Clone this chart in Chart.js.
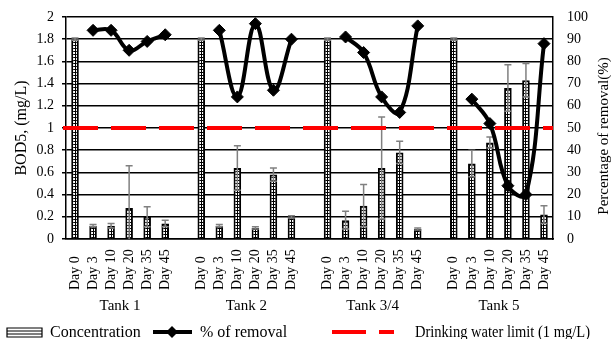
<!DOCTYPE html>
<html>
<head>
<meta charset="utf-8">
<script src="https://cdn.jsdelivr.net/npm/chart.js@4"></script>
<style>
  body { margin: 0; background: #fff; }
  canvas { display: block; }
</style>
</head>
<body>
<canvas id="bodChart" width="611" height="339"></canvas>
<script>
// tanks and sampling days
const tanks = ['Tank 1', 'Tank 2', 'Tank 3/4', 'Tank 5'];
const days = ['Day 0', 'Day 3', 'Day 10', 'Day 20', 'Day 35', 'Day 45'];

// BOD5 concentration (mg/L)
const concTank1 = [1.8, 0.12, 0.12, 0.28, 0.20, 0.14];
const concTank2 = [1.8, 0.12, 0.64, 0.10, 0.58, 0.20];
const concTank34 = [1.8, 0.17, 0.30, 0.64, 0.78, 0.09];
const concTank5 = [1.8, 0.68, 0.87, 1.36, 1.43, 0.22];

// standard deviation (mg/L)
const errTank1 = [0.01, 0.01, 0.02, 0.38, 0.09, 0.03];
const errTank2 = [0.01, 0.01, 0.20, 0.01, 0.06, 0.01];
const errTank34 = [0.01, 0.08, 0.19, 0.46, 0.10, 0.01];
const errTank5 = [0.01, 0.12, 0.05, 0.21, 0.15, 0.08];

// percentage of removal (%)
const removalTank1 = [null, 94, 94, 85, 89, 92];
const removalTank2 = [null, 94, 64, 97, 67, 90];
const removalTank34 = [null, 91, 84, 64, 57, 96];
const removalTank5 = [null, 63, 52, 24, 20, 88];

// drinking water limit (mg/L)
const limitValue = 1;

const concByTank = [concTank1, concTank2, concTank34, concTank5];
const errByTank = [errTank1, errTank2, errTank34, errTank5];
const removalByTank = [removalTank1, removalTank2, removalTank34, removalTank5];

// flatten with an empty slot between tanks
const labels = [];
const concentration = [];
const errors = [];
const removal = [];
const groups = [];
tanks.forEach((tank, t) => {
    if (t > 0) {
        labels.push('');
        concentration.push(null);
        errors.push(null);
        removal.push(null);
    }
    const start = labels.length;
    days.forEach((day, i) => {
        labels.push(day);
        concentration.push(concByTank[t][i]);
        errors.push(errByTank[t][i]);
        removal.push(removalByTank[t][i]);
    });
    groups.push({ name: tank, start: start, end: labels.length - 1 });
});

const serif = '"Liberation Serif", "Times New Roman", serif';
Chart.defaults.font.family = serif;
Chart.defaults.color = '#000';

// ladder-like fill used for the bars
function makePattern(ctx) {
    const c = document.createElement('canvas');
    c.width = 3;
    c.height = 3;
    const p = c.getContext('2d');
    p.fillStyle = '#fff';
    p.fillRect(0, 0, 3, 3);
    p.fillStyle = '#000';
    p.fillRect(0, 0, 3, 1);
    p.fillRect(0, 0, 1, 3);
    return ctx.createPattern(c, 'repeat');
}

const canvas = document.getElementById('bodChart');
const ctx = canvas.getContext('2d');
const barPattern = makePattern(ctx);

// error bars + limit line, drawn right after the bars
const overlayPlugin = {
    id: 'overlay',
    afterDatasetDraw(chart, args) {
        if (args.index !== 0) return;
        const c = chart.ctx;
        const y = chart.scales.y;
        const area = chart.chartArea;
        c.save();
        c.strokeStyle = '#808080';
        c.lineWidth = 1.5;
        args.meta.data.forEach((bar, i) => {
            if (concentration[i] == null || errors[i] == null) return;
            const x = bar.x;
            const top = y.getPixelForValue(concentration[i] + errors[i]);
            const lowVal = concentration[i] - errors[i];
            const bot = y.getPixelForValue(Math.max(lowVal, 0));
            c.beginPath();
            c.moveTo(x, top);
            c.lineTo(x, bot);
            c.moveTo(x - 3.5, top);
            c.lineTo(x + 3.5, top);
            if (lowVal > 0) {
                c.moveTo(x - 3.5, bot);
                c.lineTo(x + 3.5, bot);
            }
            c.stroke();
        });
        // drinking water limit
        const ly = y.getPixelForValue(limitValue);
        c.strokeStyle = '#ff0000';
        c.lineWidth = 4;
        c.setLineDash([35, 13]);
        c.beginPath();
        c.moveTo(area.left - 3, ly);
        c.lineTo(area.right, ly);
        c.stroke();
        c.restore();
    },
    afterDraw(chart) {
        const c = chart.ctx;
        const x = chart.scales.x;
        const area = chart.chartArea;
        c.save();
        c.fillStyle = '#000';
        // day labels, rotated, starting from the bottom
        c.font = '14px ' + serif;
        c.textAlign = 'left';
        c.textBaseline = 'middle';
        labels.forEach((lab, i) => {
            if (!lab) return;
            c.save();
            c.translate(x.getPixelForValue(i), area.bottom + 51);
            c.rotate(-Math.PI / 2);
            c.fillText(lab, 0, 0);
            c.restore();
        });
        // right axis title, reading upwards
        c.save();
        c.font = '15px ' + serif;
        c.textAlign = 'center';
        c.textBaseline = 'middle';
        c.translate(604, (area.top + area.bottom) / 2 + 8);
        c.rotate(-Math.PI / 2);
        c.fillText('Percentage of removal(%)', 0, 0);
        c.restore();
        // tank names
        c.font = '15px ' + serif;
        c.textAlign = 'center';
        c.textBaseline = 'alphabetic';
        groups.forEach(g => {
            const cx = (x.getPixelForValue(g.start) + x.getPixelForValue(g.end)) / 2;
            c.fillText(g.name, cx, area.bottom + 71);
        });
        // legend
        const ly = 332;
        c.lineWidth = 1.2;
        c.strokeStyle = '#000';
        c.fillStyle = '#fff';
        c.fillRect(7, 328, 35, 9);
        c.beginPath();
        c.rect(7, 328, 35, 9);
        c.moveTo(7, 331);
        c.lineTo(42, 331);
        c.moveTo(7, 334);
        c.lineTo(42, 334);
        c.stroke();
        c.fillStyle = '#000';
        c.font = '16px ' + serif;
        c.textAlign = 'left';
        c.fillText('Concentration', 50, 337);

        c.lineWidth = 4;
        c.beginPath();
        c.moveTo(153, ly);
        c.lineTo(192, ly);
        c.stroke();
        c.beginPath();
        c.moveTo(172, ly - 6);
        c.lineTo(178, ly);
        c.lineTo(172, ly + 6);
        c.lineTo(166, ly);
        c.closePath();
        c.fill();
        c.fillText('% of removal', 200, 337);

        c.strokeStyle = '#ff0000';
        c.setLineDash([34, 13]);
        c.beginPath();
        c.moveTo(332, ly);
        c.lineTo(394, ly);
        c.stroke();
        c.setLineDash([]);
        c.fillText('Drinking water limit (1 mg/L)', 415, 337, 175);
        c.restore();
    }
};

new Chart(ctx, {
    data: {
        labels: labels,
        datasets: [
            {
                type: 'bar',
                label: 'Concentration',
                data: concentration,
                yAxisID: 'y',
                backgroundColor: barPattern,
                borderColor: '#000',
                borderWidth: 2,
                barPercentage: 0.42,
                categoryPercentage: 1,
                order: 2
            },
            {
                type: 'line',
                label: '% of removal',
                data: removal,
                yAxisID: 'y1',
                borderColor: '#000',
                backgroundColor: '#000',
                borderWidth: 4,
                pointStyle: 'rectRot',
                pointRadius: 6,
                pointBorderWidth: 1,
                tension: 0.4,
                spanGaps: false,
                order: 1
            }
        ]
    },
    options: {
        responsive: false,
        animation: false,
        layout: { padding: { top: 17, left: 0, right: 0, bottom: 0 } },
        plugins: {
            legend: { display: false },
            tooltip: { enabled: false }
        },
        scales: {
            x: {
                type: 'category',
                grid: { display: false },
                border: { color: '#000', width: 1.5 },
                ticks: { display: false },
                afterFit(scale) { scale.height = 100; }
            },
            y: {
                position: 'left',
                min: 0,
                max: 2,
                ticks: {
                    stepSize: 0.2,
                    font: { size: 14 },
                    padding: 8,
                    callback: v => String(Number(v.toFixed(1)))
                },
                grid: { color: '#000', lineWidth: 1.5, tickLength: 4 },
                border: { color: '#000', width: 1.5 },
                title: {
                    display: true,
                    text: 'BOD5, (mg/L)',
                    font: { size: 16 },
                    padding: { top: 12, bottom: 0 }
                },
                afterFit(scale) { scale.width = 66; }
            },
            y1: {
                position: 'right',
                min: 0,
                max: 100,
                ticks: { stepSize: 10, font: { size: 14 }, padding: 8 },
                grid: {
                    drawOnChartArea: false,
                    drawTicks: true,
                    tickLength: 6,
                    tickColor: 'rgba(0,0,0,0)'
                },
                border: { color: '#000', width: 1.5 },
                title: { display: false },
                afterFit(scale) { scale.width = 58; }
            }
        }
    },
    plugins: [overlayPlugin]
});
</script>
</body>
</html>
